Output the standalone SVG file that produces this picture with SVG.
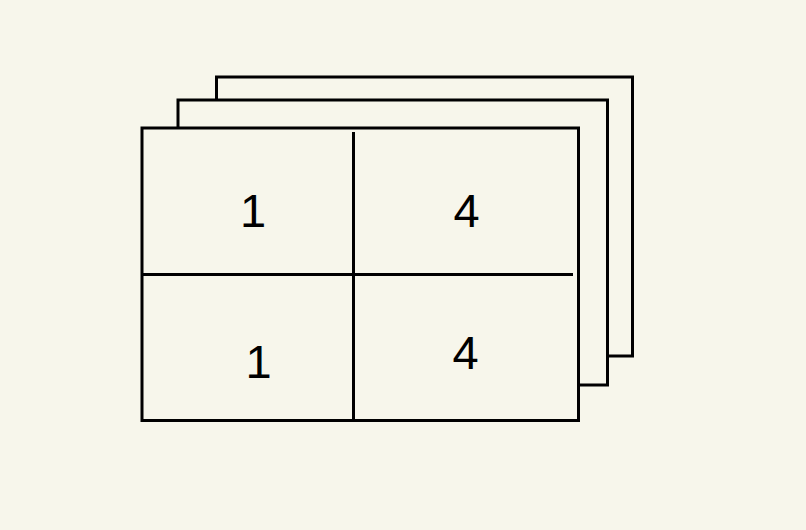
<svg xmlns="http://www.w3.org/2000/svg" width="806" height="530" viewBox="0 0 806 530">
<style>
.sheet{fill:#f7f6eb;stroke:#000;stroke-width:3}
.div{stroke:#000;stroke-width:3;fill:none}
.lbl{font-family:"Liberation Sans",Arial,sans-serif;font-size:47px;fill:#000;text-anchor:middle}
</style>
<rect width="806" height="530" fill="#f7f6eb"/>
<g id="sheet-back"><rect class="sheet" x="216.5" y="77" width="416" height="279"/></g>
<g id="sheet-middle"><rect class="sheet" x="178" y="100" width="429.5" height="285"/></g>
<g id="sheet-front"><rect class="sheet" x="142" y="128" width="436.5" height="292.5"/></g>
<g id="dividers">
<line class="div" x1="353.5" y1="132" x2="353.5" y2="420.5"/>
<line class="div" x1="142" y1="274.5" x2="573" y2="274.5"/>
</g>
<g id="cell-tl"><text class="lbl" x="253" y="227">1</text></g>
<g id="cell-tr"><text class="lbl" x="466.5" y="227">4</text></g>
<g id="cell-bl"><text class="lbl" x="258.5" y="378">1</text></g>
<g id="cell-br"><text class="lbl" x="465.5" y="369">4</text></g>
</svg>
